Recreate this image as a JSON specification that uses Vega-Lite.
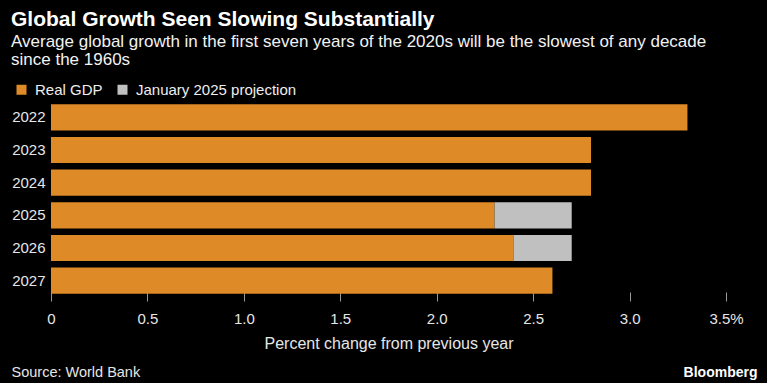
{
  "$schema": "https://vega.github.io/schema/vega-lite/v6.json",
  "width": 675,
  "height": 196,
  "autosize": {"type": "none"},
  "padding": {"left": 51, "top": 101, "right": 41, "bottom": 86},
  "background": "#000000",
  "config": {
    "view": {"stroke": null},
    "font": "Liberation Sans",
    "axis": {"labelFont": "Liberation Sans", "titleFont": "Liberation Sans"}
  },
  "title": {
    "text": "Global Growth Seen Slowing Substantially",
    "subtitle": ["Average global growth in the first seven years of the 2020s will be the slowest of any decade", "since the 1960s"],
    "anchor": "start",
    "frame": "bounds",
    "font": "Liberation Sans",
    "fontSize": 21,
    "fontWeight": "bold",
    "color": "#ffffff",
    "subtitleFont": "Liberation Sans",
    "subtitleFontSize": 17,
    "subtitleColor": "#f2f2f2",
    "subtitlePadding": 4,
    "subtitleLineHeight": 18,
    "offset": 14
  },
  "data": {
    "values": [
      {"year": "2022", "series": "Real GDP", "value": 3.3},
      {"year": "2023", "series": "Real GDP", "value": 2.8},
      {"year": "2024", "series": "Real GDP", "value": 2.8},
      {"year": "2025", "series": "Real GDP", "value": 2.3},
      {"year": "2025", "series": "January 2025 projection", "value": 0.4},
      {"year": "2026", "series": "Real GDP", "value": 2.4},
      {"year": "2026", "series": "January 2025 projection", "value": 0.3},
      {"year": "2027", "series": "Real GDP", "value": 2.6}
    ]
  },
  "resolve": {"axis": {"x": "independent"}},
  "layer": [
    {
      "mark": {"type": "bar"},
      "encoding": {
        "y": {
          "field": "year",
          "type": "nominal",
          "scale": {"paddingInner": 0.2, "paddingOuter": 0.1},
          "axis": {
            "title": null,
            "ticks": false,
            "domain": false,
            "labelPadding": 6,
            "labelFontSize": 15,
            "labelColor": "#e6e6e6"
          }
        },
        "x": {
          "field": "value",
          "type": "quantitative",
          "stack": "zero",
          "scale": {"domain": [0, 3.5], "nice": false},
          "axis": {
            "orient": "bottom",
            "title": "Percent change from previous year",
            "values": [0, 0.5, 1, 1.5, 2, 2.5, 3, 3.5],
            "labelExpr": "datum.value == 0 ? '0' : datum.value == 3.5 ? '3.5%' : format(datum.value, '.1f')",
            "labelFlush": false,
            "grid": false,
            "domain": false,
            "offset": -5,
            "tickSize": 9,
            "tickColor": "#9a9a9a",
            "tickWidth": 1,
            "labelPadding": 10,
            "labelFontSize": 15,
            "labelColor": "#e6e6e6",
            "titleFontSize": 16,
            "titleFontWeight": "normal",
            "titleColor": "#e6e6e6",
            "titleBaseline": "middle",
            "titleY": 51,
            "zindex": 0
          }
        },
        "color": {
          "field": "series",
          "type": "nominal",
          "scale": {"domain": ["Real GDP", "January 2025 projection"], "range": ["#de8a26", "#c0c0c0"]},
          "legend": {
            "title": null,
            "orient": "none",
            "legendX": -37,
            "legendY": -19,
            "direction": "horizontal",
            "symbolType": "square",
            "symbolSize": 100,
            "symbolStrokeWidth": 0,
            "labelFontSize": 15,
            "labelLimit": 400,
            "labelColor": "#eeeeee",
            "labelOffset": 6,
            "columnPadding": 12
          }
        },
        "order": {"field": "series", "sort": "descending"}
      }
    },
    {
      "data": {"values": [{}]},
      "mark": {"type": "rule", "opacity": 0},
      "encoding": {
        "x": {
          "datum": 0,
          "type": "quantitative",
          "axis": {
            "orient": "bottom",
            "title": "Source: World Bank",
            "labels": false,
            "ticks": false,
            "domain": false,
            "grid": false,
            "titleAnchor": "start",
            "titleAlign": "left",
            "titleBaseline": "middle",
            "titleX": -40,
            "titleY": 75,
            "titleFontSize": 14.5,
            "titleFontWeight": "normal",
            "titleColor": "#e6e6e6"
          }
        }
      }
    },
    {
      "data": {"values": [{}]},
      "mark": {"type": "rule", "opacity": 0},
      "encoding": {
        "x": {
          "datum": 0,
          "type": "quantitative",
          "axis": {
            "orient": "bottom",
            "title": "Bloomberg",
            "labels": false,
            "ticks": false,
            "domain": false,
            "grid": false,
            "titleAnchor": "end",
            "titleAlign": "right",
            "titleBaseline": "middle",
            "titleX": 706,
            "titleY": 75,
            "titleFontSize": 14,
            "titleFontWeight": "bold",
            "titleColor": "#ffffff"
          }
        }
      }
    }
  ]
}
